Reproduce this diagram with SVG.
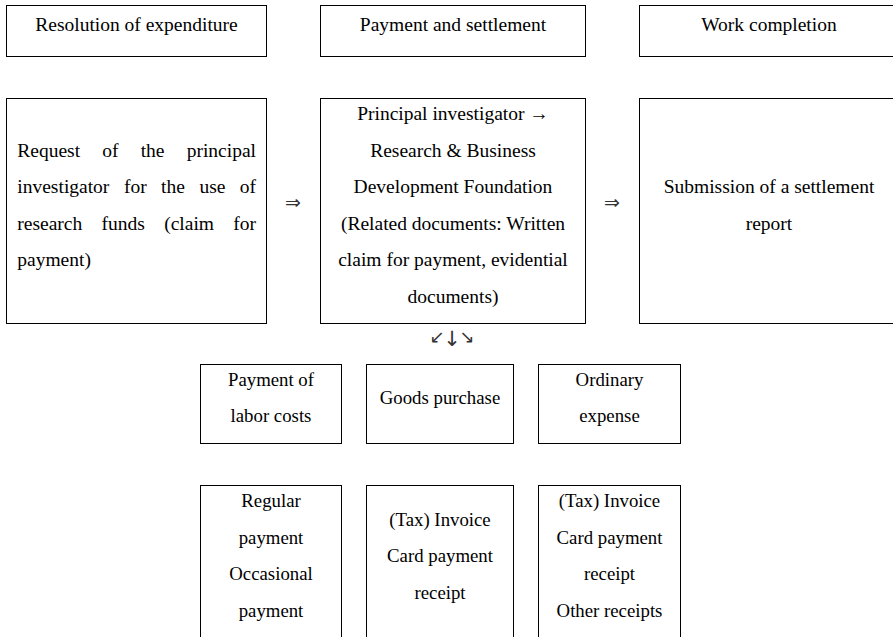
<svg xmlns="http://www.w3.org/2000/svg" width="893" height="637" viewBox="0 0 893 637">
<style>
rect{fill:#fff;stroke:#000;stroke-width:1}
.t{font-family:'Liberation Serif','Times New Roman',serif;font-size:19.5px;fill:#000}
.s{font-family:'Liberation Serif','Times New Roman',serif;font-size:18.8px;fill:#000}
.c{text-anchor:middle}
.e{text-anchor:end}
.ar{font-family:'DejaVu Sans',sans-serif;fill:#333;text-anchor:middle}
</style>
<rect x="0" y="0" width="893" height="637" style="stroke:none"/>
<g id="h1"><rect x="6.5" y="5.5" width="260" height="51"/><text class="t c" x="136.5" y="30.5">Resolution of expenditure</text></g>
<g id="h2"><rect x="320.5" y="5.5" width="265" height="51"/><text class="t c" x="453" y="30.5">Payment and settlement</text></g>
<g id="h3"><rect x="639.5" y="5.5" width="262" height="51"/><text class="t c" x="769" y="30.5">Work completion</text></g>

<g id="n1"><rect x="6.5" y="98.5" width="260" height="225"/>
<text class="t"><tspan x="17.3" y="156.5">Request</tspan><tspan x="102.3">of</tspan><tspan x="140.7">the</tspan></text>
<text class="t e" x="256" y="156.5">principal</text>
<text class="t"><tspan x="17.3" y="193">investigator</tspan><tspan x="123.9">for</tspan><tspan x="161.1">the</tspan><tspan x="199.4">use</tspan></text>
<text class="t e" x="256" y="193">of</text>
<text class="t"><tspan x="17.3" y="229.5">research</tspan><tspan x="101.6">funds</tspan><tspan x="164.2">(claim</tspan></text>
<text class="t e" x="256" y="229.5">for</text>
<text class="t" x="17.3" y="266">payment)</text>
</g>
<g id="n2"><rect x="320.5" y="98.5" width="265" height="225"/>
<text class="t c"><tspan x="453" y="120">Principal investigator →</tspan><tspan x="453" y="156.5">Research &amp; Business</tspan><tspan x="453" y="193">Development Foundation</tspan><tspan x="453" y="229.5">(Related documents: Written</tspan><tspan x="453" y="266">claim for payment, evidential</tspan><tspan x="453" y="302.5">documents)</tspan></text>
</g>
<g id="n3"><rect x="639.5" y="98.5" width="262" height="225"/>
<text class="t c"><tspan x="769" y="193">Submission of a settlement</tspan><tspan x="769" y="229.5">report</tspan></text>
</g>

<g id="c1"><rect x="200.5" y="364.5" width="141" height="79"/><text class="s c"><tspan x="271" y="385.5">Payment of</tspan><tspan x="271" y="422">labor costs</tspan></text></g>
<g id="c2"><rect x="366.5" y="364.5" width="147" height="79"/><text class="s c" x="440" y="404">Goods purchase</text></g>
<g id="c3"><rect x="538.5" y="364.5" width="142" height="79"/><text class="s c"><tspan x="609.5" y="385.5">Ordinary</tspan><tspan x="609.5" y="422">expense</tspan></text></g>

<g id="d1"><rect x="200.5" y="485.5" width="141" height="160"/><text class="s c"><tspan x="271" y="507">Regular</tspan><tspan x="271" y="543.5">payment</tspan><tspan x="271" y="580">Occasional</tspan><tspan x="271" y="616.5">payment</tspan></text></g>
<g id="d2"><rect x="366.5" y="485.5" width="147" height="160"/><text class="s c"><tspan x="440" y="525.5">(Tax) Invoice</tspan><tspan x="440" y="562">Card payment</tspan><tspan x="440" y="598.5">receipt</tspan></text></g>
<g id="d3"><rect x="538.5" y="485.5" width="142" height="160"/><text class="s c"><tspan x="609.5" y="507">(Tax) Invoice</tspan><tspan x="609.5" y="543.5">Card payment</tspan><tspan x="609.5" y="580">receipt</tspan><tspan x="609.5" y="616.5">Other receipts</tspan></text></g>

<g id="connectors">
<text class="ar" x="293" y="209" font-size="19">⇒</text>
<text class="ar" x="612" y="209" font-size="19">⇒</text>
<text class="ar" x="437" y="343" font-size="18">↙</text>
<text class="ar" x="452" y="346" font-size="21">↓</text>
<text class="ar" x="467" y="343" font-size="18">↘</text>
</g>
</svg>
